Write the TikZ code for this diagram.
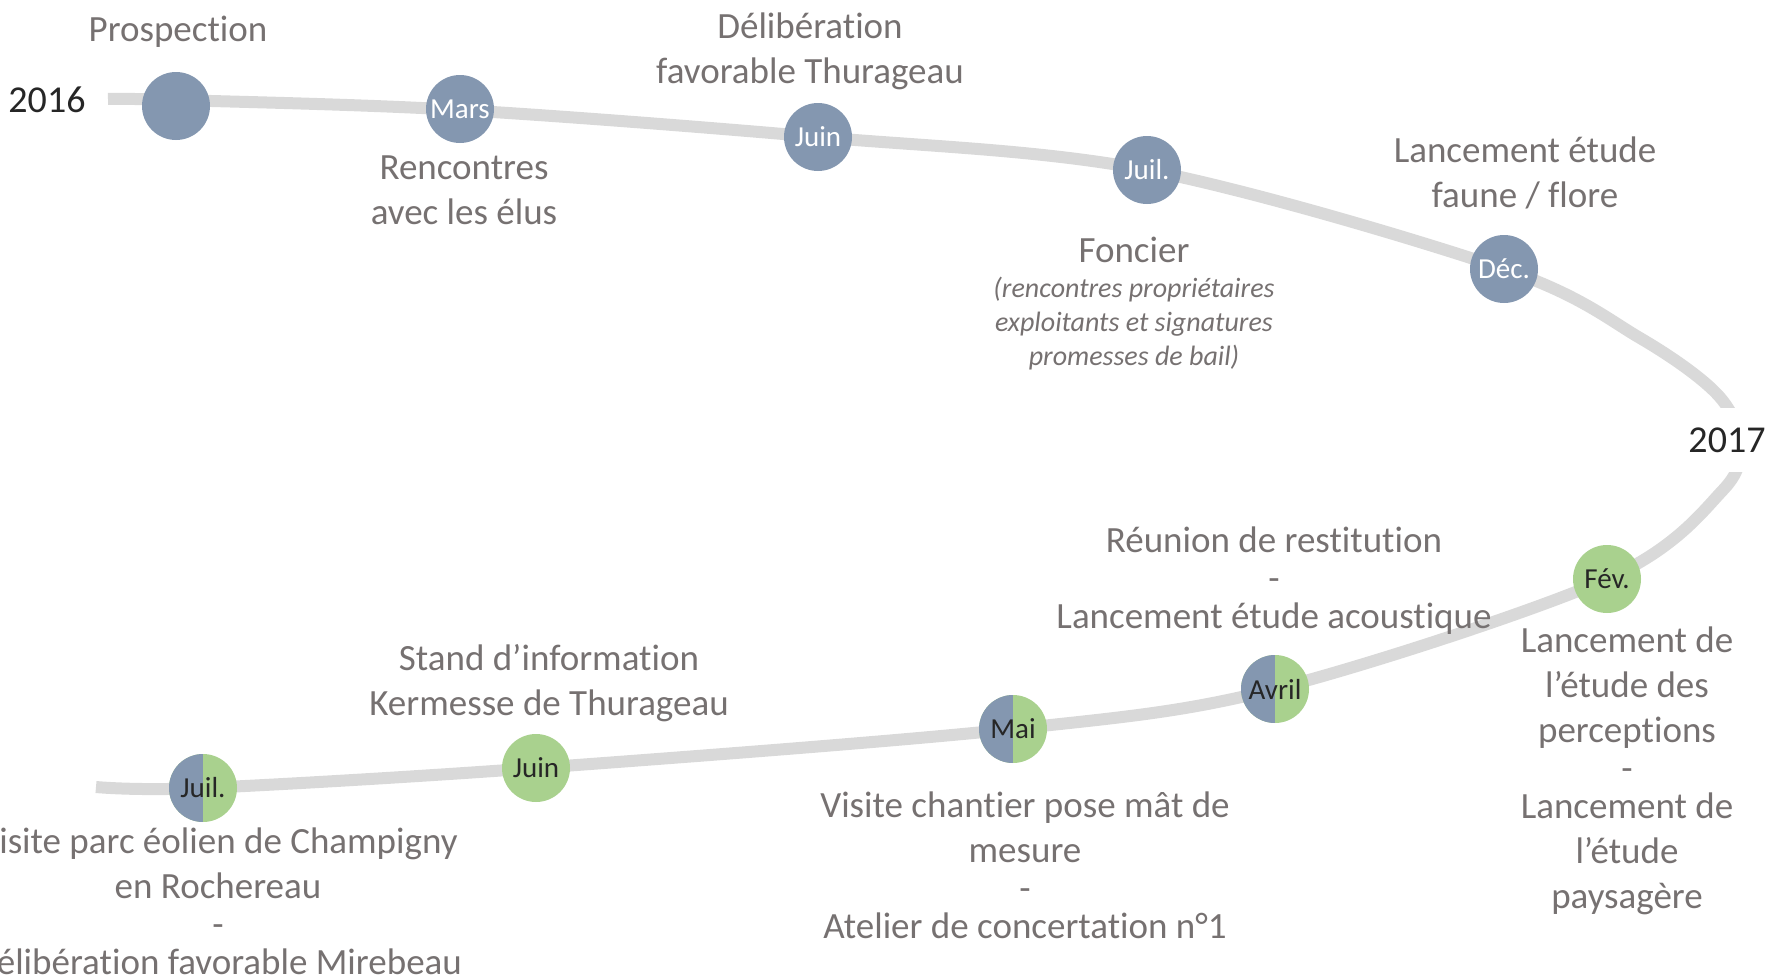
\documentclass[tikz,border=0pt]{standalone}
\usepackage{fontspec}
\setmainfont{Carlito}[Ligatures=NoCommon]
\definecolor{trk}{HTML}{D9D9D9}
\definecolor{blu}{HTML}{8497B0}
\definecolor{grn}{HTML}{A9D18E}
\definecolor{txt}{HTML}{767171}
\definecolor{dk}{HTML}{262626}
\tikzset{
  track/.style={line width=12pt, draw=trk},
  dot/.style={circle, minimum size=68pt, inner sep=0pt, font=\fontsize{29}{34}\selectfont},
  bdot/.style={dot, fill=blu, text=white},
  gdot/.style={dot, fill=grn, text=dk},
  hdot/.style={dot, fill=grn, text=dk, path picture={\fill[blu] (path picture bounding box.south west) rectangle (path picture bounding box.north);}},
  lbl/.style={text=txt, align=center, font=\fontsize{37}{45}\selectfont, inner sep=0pt},
  ital/.style={text=txt, align=center, font=\fontsize{28}{34}\selectfont\itshape, inner sep=0pt},
  yr/.style={text=dk, font=\fontsize{38}{45}\selectfont},
}
\begin{document}
\begin{tikzpicture}[x=1pt,y=-1pt]
\useasboundingbox (0,0) rectangle (1765,977);
\clip (0,0) rectangle (1765,977);
% track
\draw[track] plot[smooth, tension=0.55] coordinates {(108,99) (176,100) (460,110) (818,137) (1147,170) (1504,269) (1640,338) (1716,393) (1739,440) (1723,490) (1607,579) (1275,689) (1013,729) (536,768) (203,788) (96,787)};
% years
\node[yr, inner sep=0pt] (y16) at (47,100) {2016};
\node[yr, fill=white, inner xsep=3pt, inner ysep=20pt] (y17) at (1727,440) {2017};
% top events
\node[bdot] (prosp) at (176,106) {};
\node[bdot] (mars) at (460,109) {Mars};
\node[bdot] (juin1) at (818,137) {Juin};
\node[bdot] (juil1) at (1147,170) {Juil.};
\node[bdot] (dec) at (1504,269) {Déc.};
% bottom events
\node[gdot] (fev) at (1607,579) {Fév.};
\node[hdot] (avril) at (1275,689) {Avril};
\node[hdot] (mai) at (1013,729) {Mai};
\node[gdot] (juin2) at (536,768) {Juin};
\node[hdot] (juil2) at (203,788) {Juil.};
% labels
\node[lbl] (tprosp) at (178,32) {Prospection};
\node[lbl] (tmars) at (464,190.5) {Rencontres\\avec les élus};
\node[lbl] (tjuin1) at (810,51) {Délibération\\favorable Thurageau};
\node[lbl] (tjuil1) at (1134,250) {Foncier};
\node[ital] (tjuil1b) at (1134,324) {(rencontres propriétaires\\exploitants et signatures\\promesses de bail)};
\node[lbl] (tdec) at (1525,172.5) {Lancement étude\\faune / flore};
\node[lbl] (tfev) at (1627,771) {Lancement de\\l’étude des\\perceptions\\[-7pt]-\\[-7pt]Lancement de\\l’étude\\paysagère};
\node[lbl] (tavril) at (1274,581) {Réunion de restitution\\[-7pt]-\\[-7pt]Lancement étude acoustique};
\node[lbl] (tmai) at (1025,865) {Visite chantier pose mât de\\mesure\\[-7pt]-\\[-7pt]Atelier de concertation n°1};
\node[lbl] (tjuin2) at (549,683) {Stand d’information\\Kermesse de Thurageau};
\node[lbl] (tjuil2) at (218,901.5) {Visite parc éolien de Champigny\\en Rochereau\\[-7pt]-\\[-7pt]Délibération favorable Mirebeau};
\end{tikzpicture}
\end{document}
